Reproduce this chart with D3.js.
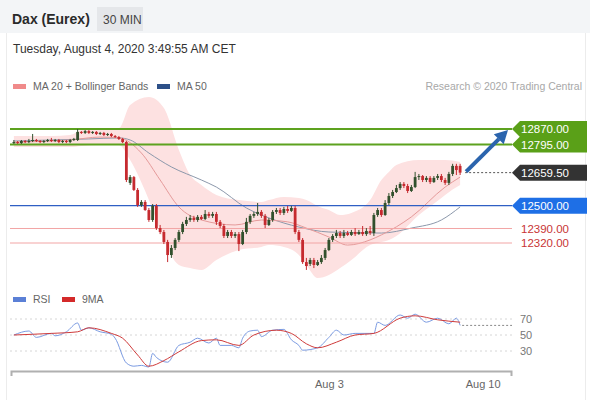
<!DOCTYPE html>
<html><head><meta charset="utf-8">
<script src="https://cdn.jsdelivr.net/npm/d3@7"></script>
<style>body{margin:0;background:#fff;} svg{display:block;font-family:"Liberation Sans",Arial,Helvetica,sans-serif;}</style>
</head><body><svg id="c" width="590" height="400"></svg>
<script>
// ---------- DATA ----------
const title = "Dax (Eurex)";
const interval = "30 MIN";
const dateText = "Tuesday, August 4, 2020 3:49:55 AM CET";
const legendMain = ["MA 20 + Bollinger Bands", "MA 50"];
const legendRsi = ["RSI", "9MA"];
const credit = "Research \u00a9 2020 Trading Central";

const opens = [12802,12807,12802,12812,12807,12812,12817,12812,12807,12812,
12817,12812,12817,12807,12812,12807,12817,12817,12856,12851,
12860,12851,12856,12846,12851,12841,12846,12836,12831,12822,
12807,12610,12638,12576,12503,12518,12479,12431,12499,12392,
12373,12325,12262,12296,12335,12373,12412,12431,12441,12431,
12446,12436,12460,12451,12460,12422,12402,12354,12373,12354,
12363,12315,12373,12422,12451,12460,12470,12451,12407,12431,
12470,12479,12465,12484,12475,12489,12373,12335,12228,12219,
12238,12214,12228,12248,12286,12335,12354,12368,12354,12368,
12359,12373,12363,12373,12363,12378,12368,12455,12479,12455,
12513,12547,12566,12585,12605,12595,12571,12590,12638,12643,
12624,12634,12614,12634,12643,12624,12610,12653,12692,12692];
const closes = [12807,12802,12812,12807,12812,12817,12812,12807,12812,12817,
12812,12817,12807,12812,12807,12817,12822,12856,12851,12860,
12851,12856,12846,12851,12841,12846,12836,12831,12822,12807,
12624,12638,12576,12503,12518,12479,12431,12499,12392,12373,
12325,12262,12296,12335,12373,12412,12431,12441,12431,12446,
12436,12460,12451,12460,12422,12402,12354,12373,12354,12363,
12315,12373,12422,12451,12460,12470,12451,12407,12431,12470,
12479,12465,12484,12475,12489,12373,12335,12228,12209,12238,
12214,12228,12248,12286,12335,12354,12368,12354,12368,12359,
12373,12363,12373,12363,12378,12368,12455,12479,12455,12513,
12547,12566,12585,12605,12595,12571,12590,12638,12643,12624,
12634,12614,12634,12643,12624,12610,12653,12692,12672,12659.5];
const highs = [12817,12812,12817,12817,12822,12846,12822,12817,12817,12822,
12827,12822,12822,12817,12817,12822,12827,12870,12860,12865,
12865,12860,12860,12856,12856,12851,12851,12841,12836,12827,
12812,12648,12643,12585,12527,12527,12489,12508,12508,12407,
12383,12335,12310,12344,12383,12422,12446,12455,12451,12455,
12455,12479,12470,12470,12470,12431,12412,12383,12383,12373,
12373,12383,12441,12460,12470,12513,12479,12460,12441,12479,
12489,12489,12494,12499,12499,12499,12383,12344,12248,12248,
12248,12238,12262,12296,12344,12363,12383,12378,12383,12378,
12383,12392,12383,12402,12392,12402,12465,12489,12489,12527,
12561,12576,12600,12614,12614,12605,12600,12663,12653,12648,
12643,12643,12643,12653,12653,12634,12663,12702,12702,12702];
const lows = [12798,12798,12798,12802,12802,12807,12807,12802,12802,12807,
12807,12807,12802,12802,12802,12802,12812,12812,12846,12846,
12846,12846,12841,12841,12836,12836,12831,12827,12817,12802,
12614,12600,12571,12494,12494,12475,12422,12422,12383,12363,
12315,12228,12248,12286,12325,12363,12402,12422,12422,12422,
12431,12431,12441,12441,12407,12392,12344,12344,12344,12344,
12281,12310,12363,12412,12441,12451,12441,12392,12402,12422,
12460,12455,12455,12465,12470,12363,12325,12219,12190,12209,
12199,12209,12219,12238,12281,12325,12344,12344,12344,12354,
12354,12354,12359,12354,12354,12359,12354,12446,12446,12451,
12503,12537,12561,12576,12585,12561,12566,12585,12624,12614,
12614,12605,12610,12624,12614,12600,12600,12643,12648,12648];

// Bollinger bands (sampled at candle indices)
const bandIdx = [0,10,15,18,23,28,31,36,40,44,47,50,54,60,66,68,72,76,78,81,84,87,90,95,98,100,102,108,114,115,119];
const upperVal = [12836,12836,12841,12865,12875,12875,12986,13024,12971,12769,12648,12600,12552,12527,12518,12527,12542,12537,12527,12499,12479,12455,12465,12527,12624,12663,12696,12720,12720,12720,12711];
const lowerVal = [12783,12783,12783,12788,12793,12793,12720,12527,12335,12214,12199,12190,12238,12286,12301,12310,12301,12262,12214,12151,12166,12199,12238,12310,12325,12335,12354,12455,12537,12552,12600];
// MA 20
const ma20Idx = [0,15,23,28,34,39,44,50,59,66,73,78,84,89,95,98,106,115,119];
const ma20Val = [12807,12817,12831,12827,12754,12624,12494,12431,12407,12431,12422,12392,12349,12310,12335,12359,12446,12590,12638];
// MA 50
const ma50Idx = [0,10,20,28,31,36,42,50,54,62,68,76,84,98,106,114,119];
const ma50Val = [12812,12817,12822,12827,12817,12754,12687,12624,12590,12489,12441,12397,12373,12368,12392,12431,12494];
// RSI and its 9MA
const rsiIdx = [0,4,6,10,11,14,17,18,20,23,26,27,30,32,34,36,37,38,41,44,47,49,52,54,55,58,60,61,63,65,66,69,72,74,76,77,81,84,86,88,91,96,97,99,103,105,107,110,113,116,118,119];
const rsiVal = [50,55,47,52,49,54,65,56,59,54,51,46,15,11,12,10,27,22,16,37,41,46,40,46,37,37,34,46,55,56,48,56,57,44,37,31,34,47,56,50,52,52,66,62,75,71,76,66,71,64,71,62];
const ma9Idx = [0,10,17,20,26,29,33,36,40,44,50,54,60,64,70,74,78,81,86,91,96,103,107,113,119];
const ma9Val = [50,52,54,59,52,46,25,11,18,29,43,44,37,50,56,52,39,34,41,50,52,71,74,69,66];

// key levels
const resistLevels = [12870, 12795];
const lastPrice = 12659.5;
const supportMain = 12500;
const supportLevels = [12390, 12320];
const rsiTicks = [70, 50, 30];
const xTickIdx = [84, 125];
const xTickLabels = ["Aug 3", "Aug 10"];

// ---------- DRAW ----------
const svg = d3.select('#c');
const n = closes.length;
const x = d3.scaleLinear().domain([-0.5, n - 0.5]).range([12, 462]);
const y = d3.scaleLinear().domain([12320, 12870]).range([243, 129]);
const ry = d3.scaleLinear().domain([30, 70]).range([351, 319]);
const X0 = 10, X1 = 512;

// header
svg.append('rect').attr('x',0).attr('y',0).attr('width',590).attr('height',33).attr('fill','#f3f5f7');
svg.append('text').attr('x',12).attr('y',24).attr('font-size',14).attr('font-weight','bold').attr('fill','#2a2a2a').text(title);
svg.append('rect').attr('x',97).attr('y',7).attr('width',46).attr('height',24).attr('fill','#e5e7ea');
svg.append('text').attr('x',103).attr('y',24).attr('font-size',12).attr('fill','#444').text(interval);
svg.append('text').attr('x',13).attr('y',53).attr('font-size',12).attr('fill','#333').text(dateText);
// frame
svg.append('line').attr('x1',6.5).attr('x2',6.5).attr('y1',33).attr('y2',400).attr('stroke','#ececec');
svg.append('line').attr('x1',585.5).attr('x2',585.5).attr('y1',33).attr('y2',400).attr('stroke','#ececec');

// legends
const legColors = ['#f08a8a', '#2d5088'];
const legX = [13, 157];
legendMain.forEach((t,i)=>{
  svg.append('rect').attr('x',legX[i]).attr('y',84).attr('width',13).attr('height',5).attr('fill',legColors[i]);
  svg.append('text').attr('x',legX[i]+20).attr('y',90).attr('font-size',10.5).attr('fill','#666').text(t);
});
svg.append('text').attr('x',582).attr('y',90).attr('text-anchor','end').attr('font-size',10.5).attr('fill','#a8a8a8').text(credit);

const rsiColors = ['#5b80d6', '#d42a2a'];
const rsiLegX = [13, 62];
legendRsi.forEach((t,i)=>{
  svg.append('rect').attr('x',rsiLegX[i]).attr('y',297).attr('width',13).attr('height',5).attr('fill',rsiColors[i]);
  svg.append('text').attr('x',rsiLegX[i]+20).attr('y',303).attr('font-size',10.5).attr('fill','#666').text(t);
});

// bollinger band area
const area = d3.area().x(d=>x(d[0])).y0(d=>y(d[2])).y1(d=>y(d[1])).curve(d3.curveMonotoneX);
svg.append('path').datum(d3.zip(bandIdx, upperVal, lowerVal)).attr('d', area).attr('fill','#fde1e1');

const line = d3.line().x(d=>x(d[0])).y(d=>y(d[1])).curve(d3.curveMonotoneX);
svg.append('path').datum(d3.zip(ma50Idx, ma50Val)).attr('d', line).attr('fill','none').attr('stroke','#8c98ab').attr('stroke-width',1);
svg.append('path').datum(d3.zip(ma20Idx, ma20Val)).attr('d', line).attr('fill','none').attr('stroke','#e59a9a').attr('stroke-width',1);

// level lines
supportLevels.forEach(v=>{
  svg.append('line').attr('x1',X0).attr('x2',X1).attr('y1',y(v)).attr('y2',y(v)).attr('stroke','#f2a5a5').attr('stroke-width',1);
});
svg.append('line').attr('x1',X0).attr('x2',X1).attr('y1',y(supportMain)).attr('y2',y(supportMain)).attr('stroke','#2f5fc4').attr('stroke-width',1.2);
resistLevels.forEach(v=>{
  svg.append('line').attr('x1',X0).attr('x2',X1).attr('y1',y(v)).attr('y2',y(v)).attr('stroke','#5da21f').attr('stroke-width',2);
});
svg.append('line').attr('x1',x(n-1)+5).attr('x2',X1).attr('y1',y(lastPrice)).attr('y2',y(lastPrice)).attr('stroke','#555').attr('stroke-width',1).attr('stroke-dasharray','2,2');

// candles
const up = '#32502d', down = '#c62a2f';
const idx = d3.range(n);
const col = i => closes[i] >= opens[i] ? up : down;
svg.append('g').selectAll('line').data(idx).join('line')
  .attr('x1',i=>x(i)).attr('x2',i=>x(i)).attr('y1',i=>y(highs[i])).attr('y2',i=>y(lows[i]))
  .attr('stroke',col).attr('stroke-width',1);
svg.append('g').selectAll('rect').data(idx).join('rect')
  .attr('x',i=>x(i)-1.4).attr('width',2.8)
  .attr('y',i=>y(Math.max(opens[i],closes[i])))
  .attr('height',i=>Math.max(1, Math.abs(y(opens[i])-y(closes[i]))))
  .attr('fill',col);

// forecast arrow
const ax0 = x(n-1)+6, ay0 = y(lastPrice)-1, ax1 = 508, ay1 = y(resistLevels[0])+1;
const ang = Math.atan2(ay1-ay0, ax1-ax0);
const hl = 13, hw = 7;
const bx = ax1 - hl*Math.cos(ang), by = ay1 - hl*Math.sin(ang);
svg.append('line').attr('x1',ax0).attr('y1',ay0).attr('x2',bx).attr('y2',by).attr('stroke','#2b64ad').attr('stroke-width',4);
svg.append('path').attr('d', `M${ax1},${ay1}L${bx + hw*Math.sin(ang)},${by - hw*Math.cos(ang)}L${bx - hw*Math.sin(ang)},${by + hw*Math.cos(ang)}Z`).attr('fill','#2b64ad');

// right labels
function tag(v, fill){
  const cy = y(v);
  svg.append('path').attr('d',`M512,${cy}L520,${cy-8}L587,${cy-8}L587,${cy+8}L520,${cy+8}Z`).attr('fill',fill);
  svg.append('text').attr('x',521).attr('y',cy).attr('dy','0.36em').attr('font-size',11.5).attr('fill','#fff').text(v.toFixed(2));
}
resistLevels.forEach(v=>tag(v,'#5aa018'));
tag(lastPrice,'#333333');
tag(supportMain,'#1e6fe6');
supportLevels.forEach(v=>{
  svg.append('text').attr('x',521).attr('y',y(v)).attr('dy','0.36em').attr('font-size',11.5).attr('fill','#c83434').text(v.toFixed(2));
});

// RSI panel
rsiTicks.forEach(t=>{
  svg.append('line').attr('x1',X0).attr('x2',X1).attr('y1',ry(t)).attr('y2',ry(t)).attr('stroke','#d6d6d6').attr('stroke-dasharray','2,3');
  svg.append('text').attr('x',520).attr('y',ry(t)).attr('dy','0.36em').attr('font-size',11).attr('fill','#777').text(t);
});
svg.append('line').attr('x1',x(n-1)+2).attr('x2',X1).attr('y1',ry(rsiVal[rsiVal.length-1])).attr('y2',ry(rsiVal[rsiVal.length-1])).attr('stroke','#888').attr('stroke-dasharray','2,2');
const rline = d3.line().x(d=>x(d[0])).y(d=>ry(d[1])).curve(d3.curveMonotoneX);
svg.append('path').datum(d3.zip(rsiIdx, rsiVal)).attr('d', rline).attr('fill','none').attr('stroke','#7b9be2').attr('stroke-width',1);
svg.append('path').datum(d3.zip(ma9Idx, ma9Val)).attr('d', rline).attr('fill','none').attr('stroke','#cf3b3b').attr('stroke-width',1);

// x axis
const xa = d3.scaleLinear().domain([x.invert(11), x.invert(511)]).range([11, 511]);
const axis = d3.axisBottom(xa).tickValues(xTickIdx).tickFormat((d,i)=>xTickLabels[i]).tickSizeInner(0).tickSizeOuter(5).tickPadding(9);
const ag = svg.append('g').attr('transform','translate(0,371)').call(axis);
ag.select('.domain').attr('stroke','#b0b0b0').attr('stroke-width',2);
ag.selectAll('text').attr('font-size',11).attr('fill','#666').attr('font-family','"Liberation Sans",Arial,sans-serif');
</script></body></html>
